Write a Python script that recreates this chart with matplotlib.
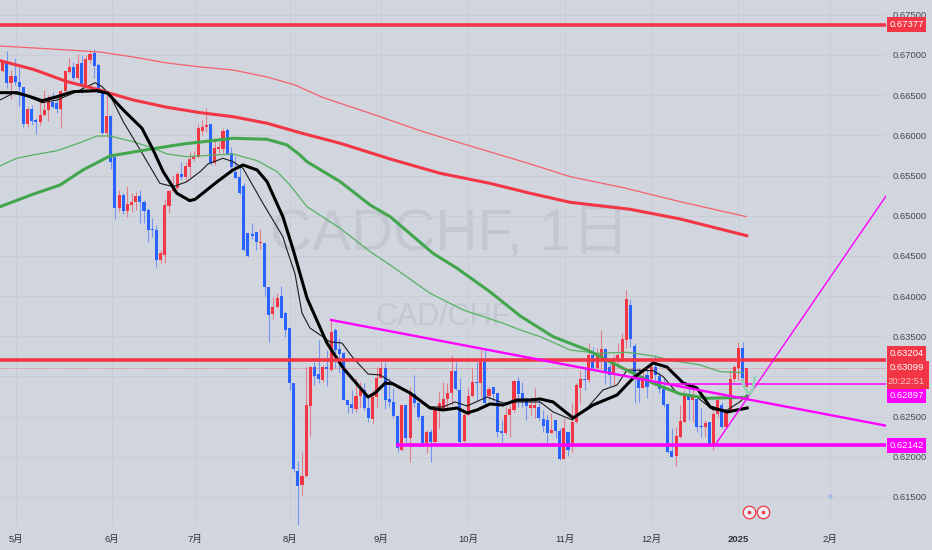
import matplotlib
matplotlib.use("Agg")
import matplotlib.pyplot as plt
from matplotlib.patches import Rectangle
import numpy as np

opens = [
 .66805,.66917,.66647,.66739,.66668,.66598,.66141,.66324,.66191,.66170,
 .66253,.66315,.66419,.66407,.66332,.66556,.66792,.66855,.66710,.66896,
 .66627,.66938,.67021,.66875,.66523,.66033,.66241,.65735,.65092,.65258,
 .65063,.65133,.65175,.65249,.65175,.65071,.64834,.64822,.64449,.64511,
 .65121,.65308,.65341,.65519,.65486,.65611,.65702,.65735,.66058,.66100,
 .66141,.65660,.65830,.65826,.66067,.65776,.65548,.65478,.65370,.64781,
 .64772,.64801,.64656,
 .64656,.64117,.63772,.63860,.64001,.63785,.63598,.62922,.61827,.61649,
 .61765,.62636,.63121,.63030,.62955,.63113,.63080,.63577,.63345,.63287,
 .62706,.62657,.62599,.62756,.62831,.62603,.62470,.62748,.62984,.63100,
 .62719,.62686,.62511,.62084,.62644,.62229,.62777,.62673,.62511,.62167,
 .62312,.62188,.62582,.62590,.62715,.62789,.63067,.62831,.62200,.62520,
 .62756,.62935,.62922,.63183,.62760,.62864,.62789,.62321,.62292,.62520,
 .62582,.62947,.62789,.62715,
 .62603,.62603,.62624,.62466,.62458,.62300,.62458,.62325,.61968,.62313,
 .62167,.62437,.62852,.62964,.62956,.63267,.63101,.63204,.63337,.63113,
 .63018,.63213,.63225,.63453,.63885,.63379,.62976,.62852,.63018,.62964,
 .63113,.63005,.62839,.62653,.62076,.62010,.62250,.62437,.62769,.62707,
 .62715,.62387,.62375,.62429,.62147,.62528,.62644,.62375,.62562,.62964,
 .63101,.63350,.62873]
highs = [
 .66938,.67054,.66813,.66958,.66855,.66606,.66357,.66378,.66212,.66419,
 .66564,.66502,.66544,.66461,.66564,.66805,.66958,.66917,.67012,.67000,
 .67000,.67062,.67070,.66896,.66564,.66502,.66253,.65735,.65320,.65278,
 .65370,.65278,.65299,.65320,.65196,.65092,.64967,.64884,.64573,.65204,
 .65320,.65507,.65548,.65673,.65673,.65797,.65809,.66141,.66191,.66336,
 .66141,.65963,.65921,.66087,.66087,.65851,.65743,.65610,.65403,.64789,
 .64913,.64801,.64830,
 .64663,.64117,.63992,.64034,.64125,.63818,.63598,.62922,.61951,.62063,
 .63121,.63129,.63183,.63453,.63142,.63329,.63702,.63598,.63474,.63308,
 .62706,.62831,.62976,.62935,.62914,.62727,.62831,.63121,.63183,.63183,
 .62976,.62852,.62520,.62652,.62657,.62872,.63017,.62686,.62520,.62333,
 .62341,.62623,.62810,.62935,.62914,.63266,.63183,.62976,.62540,.62852,
 .63100,.63183,.63329,.63329,.62872,.62872,.62789,.62457,.62623,.62644,
 .62955,.62997,.62935,.62748,
 .62748,.62852,.62727,.62582,.62520,.62541,.62458,.62354,.62466,.62313,
 .62665,.62914,.63080,.63101,.63412,.63370,.63350,.63578,.63350,.63163,
 .63267,.63412,.63536,.64076,.63959,.63412,.63101,.63101,.63101,.63213,
 .63267,.63059,.62976,.62665,.62354,.62375,.62644,.62831,.62893,.62893,
 .62727,.62603,.62458,.62437,.62562,.62769,.62686,.62562,.63080,.63142,
 .63433,.63433,.63105]
lows = [
 .66792,.66585,.66448,.66627,.66365,.66100,.66108,.66129,.66017,.66129,
 .66241,.66183,.66336,.66274,.66087,.66523,.66772,.66689,.66697,.66523,
 .66564,.66896,.66710,.66523,.66017,.65984,.65577,.64955,.65050,.65021,
 .64988,.65050,.65071,.64913,.64905,.64677,.64739,.64358,.64407,.64407,
 .65030,.65299,.65328,.65444,.65444,.65486,.65685,.65714,.66004,.66046,
 .65631,.65631,.65776,.65776,.65755,.65548,.65465,.65270,.64565,.64490,
 .64706,.64573,.64582,
 .64001,.63432,.63710,.63847,.63723,.63486,.62831,.61815,.61151,.61524,
 .61752,.62263,.62893,.62914,.62935,.62881,.63071,.63100,.63038,.62706,
 .62540,.62549,.62561,.62623,.62582,.62437,.62416,.62623,.62976,.62590,
 .62623,.62478,.62063,.62072,.62167,.61939,.62623,.62457,.62146,.62043,
 .61939,.62167,.62354,.62582,.62603,.62644,.62831,.62167,.62188,.62520,
 .62748,.62706,.62748,.62644,.62706,.62686,.62242,.62188,.62283,.62250,
 .62561,.62623,.62623,.62457,
 .62520,.62479,.62458,.62313,.62167,.62292,.62230,.61960,.61968,.62010,
 .62064,.62416,.62665,.62831,.62935,.63080,.63088,.63101,.62906,.62881,
 .62893,.63122,.63204,.63350,.63370,.62665,.62686,.62852,.62727,.62956,
 .62956,.62790,.62624,.62051,.62002,.61885,.62230,.62437,.62458,.62437,
 .62313,.62250,.62250,.62147,.62085,.62499,.62354,.62375,.62541,.62935,
 .62956,.62956,.62864]
closes = [
 .66917,.66647,.66739,.66668,.66598,.66141,.66324,.66183,.66170,.66253,
 .66315,.66448,.66349,.66324,.66556,.66805,.66855,.66710,.66888,.66627,
 .66946,.67012,.66863,.66523,.66033,.66241,.65673,.65092,.65258,.65063,
 .65146,.65175,.65249,.65175,.65063,.64822,.64826,.64449,.64532,.65133,
 .65308,.65341,.65519,.65478,.65619,.65702,.65735,.66087,.66100,.66129,
 .65660,.65838,.65859,.66058,.65768,.65602,.65473,.65278,.64573,.64499,
 .64747,.64677,.64677,
 .64108,.63764,.63860,.63972,.63723,.63577,.62914,.61844,.61640,.61761,
 .62644,.63121,.63005,.62964,.63113,.63088,.63557,.63329,.63279,.62706,
 .62644,.62603,.62760,.62831,.62603,.62487,.62748,.62984,.63109,.62706,
 .62686,.62511,.62105,.62644,.62229,.62789,.62673,.62499,.62167,.62312,
 .62188,.62582,.62665,.62715,.62789,.63067,.62839,.62188,.62520,.62760,
 .62935,.62922,.63183,.62665,.62839,.62781,.62312,.62300,.62520,.62590,
 .62947,.62781,.62706,.62632,
 .62644,.62644,.62479,.62383,.62300,.62333,.62325,.61968,.62354,.62085,
 .62437,.62893,.62964,.62960,.63267,.63101,.63267,.63337,.63047,.63018,
 .63225,.63267,.63462,.63959,.63462,.62976,.62852,.63005,.62873,.63122,
 .63018,.62839,.62644,.62064,.62002,.62259,.62450,.62769,.62707,.62769,
 .62375,.62375,.62416,.62167,.62528,.62707,.62375,.62541,.62964,.63113,
 .63350,.62976,.63099]

red_thick_x = [-.65,7.3,15.5,23.4,25.8,31.4,39.5,47.5,55.4,63.6,71.5,81.2,93.2,105.2,117.2,126.9,136.5,150.9,163,179]
red_thick_y = [.66929,.66822,.66668,.66564,.66523,.66440,.66349,.66282,.66232,.66150,.66033,.65901,.65706,.65528,.65403,.65279,.65167,.65080,.64959,.64751]
red_thin_x = [-.65,11.4,23.4,31.4,39.5,47.5,55.4,63.6,70.3,77.1,89.1,101.1,111.7,126.9,136.5,149.3,163,178.9]
red_thin_y = [.67112,.67075,.67037,.66975,.66900,.66851,.66813,.66726,.66627,.66469,.66262,.66046,.65880,.65644,.65486,.65349,.65174,.64988]
green_thick_x = [-.65,7.3,13.8,19.3,25.8,35.4,43.4,55.4,63.6,68.4,71.5,73.2,81.2,88.4,93.2,103.5,109.3,117.2,124.5,132.4,140.6,148.5,156.5,163,169.5,179.1]
green_thick_y = [.65112,.65267,.65382,.65569,.65743,.65827,.65892,.65963,.65951,.65880,.65756,.65672,.65423,.65133,.64988,.64532,.64346,.64054,.63752,.63495,.63329,.63121,.62915,.62782,.62728,.62740]
green_thin_x = [-.65,3.4,7.3,13.1,18.6,22.7,25.8,31.4,36.2,39.5,44.3,55.4,61.2,66,69.1,73.2,81.2,88.4,93.2,102.8,110.8,120.4,124.5,129.3,136.5,143,150.2,156.5,161.3,167.8,172.6,178.1]
green_thin_y = [.65619,.65715,.65756,.65809,.65909,.65992,.65992,.65921,.65839,.65768,.65734,.65768,.65685,.65548,.65382,.65112,.64843,.64552,.64387,.64035,.63827,.63661,.63578,.63495,.63329,.63288,.63300,.63254,.63196,.63142,.63059,.63047]
black_thick_x = [-.65,3.4,6.6,9.5,13.1,16.9,22.7,25.3,29,33.5,36.2,38.6,41.9,45,46.3,51.6,55.4,57.8,61.2,63.6,67.4,69.9,71.5,73.2,78,81.9,87.9,89.6,92,93.9,98,102.8,105.9,109.3,111.7,114.1,117.2,120.4,123.7,126.9,129.3,132.4,137.2,142,147.8,151.7,156.5,159.8,163.7,167,170.2,174.3,179.1]
black_thick_y = [.66531,.66531,.66481,.66431,.66481,.66543,.66556,.66523,.66316,.66088,.65818,.65548,.65279,.65187,.65204,.65423,.65569,.65631,.65569,.65423,.64988,.64573,.64283,.63976,.63416,.63105,.62744,.62794,.62918,.62906,.62794,.62607,.62582,.62607,.62545,.62582,.62657,.62644,.62707,.62707,.62719,.62682,.62483,.62644,.62769,.62980,.63167,.63117,.62918,.62856,.62620,.62558,.62607]
black_thin_x = [-.65,2.5,5.8,9.5,13.1,16.9,20.3,22.2,23.9,25.8,29,33.8,37.8,41,44.3,47.5,49.4,53,55.4,57.8,62.6,67.4,68.4,70.3,72,73.9,78.8,81.6,84.3,87.9,90.8,93.9,98,102.8,105.9,108.8,111.7,116.5,120.4,123.7,126.9,129.3,132.4,137,140.6,144.4,147.8,150.2,156.5,158.9,162.2,167,170.9,174.3,177.4,179.1]
black_thin_y = [.66440,.66523,.66490,.66406,.66440,.66523,.66606,.66655,.66606,.66502,.66170,.65756,.65403,.65361,.65423,.65548,.65644,.65715,.65672,.65590,.65155,.64739,.64573,.64283,.63789,.63603,.63429,.63416,.63229,.63030,.63018,.62918,.62794,.62620,.62620,.62682,.62632,.62744,.62669,.62682,.62682,.62682,.62558,.62458,.62607,.62831,.62893,.63080,.63071,.62997,.62794,.62744,.62582,.62582,.62686,.62769]
brush_x = [177.8,178.6,179.3,179.8,180.5,181]
brush_y = [.62956,.62856,.62794,.62782,.62856,.62993]

levels_red = [.67377, .63204]
last_price = .63099
level_support = .62142
level_thin = .62906
trend_x, trend_y = [79, 212.5], [.63702, .62387]
rise_x, rise_y = [171.4, 212.5], [.62147, .65245]

yticks = [.615,.62,.625,.63,.635,.64,.645,.65,.655,.66,.665,.67,.675]
covered_tick = .63
month_pos = [3.1,26.2,46.2,69.0,91.1,112.0,135.3,156.1,176.9,199.0]
month_lab = ['5月','6月','7月','8月','9月','10月','11月','12月','2025','2月']
event_x = [179.6, 183.0]
event_y = [.61313, .61313]
dot_x, dot_y = [199.0], [.6151]

RED, BLUE, MAG = '#f23645', '#2962ff', '#ff00ff'
BG, GRID = '#d1d5de', '#cacdd7'
plt.rcParams['font.family'] = ['Liberation Sans', 'Noto Sans CJK SC']
FS = 6.8

W, H = 932, 550
fig = plt.figure(figsize=(W/100, H/100), dpi=100, facecolor=BG)
ax = fig.add_axes([0, 25/H, 886/W, 525/H], facecolor=BG)
ax.set_xlim(-.65, 212.5)
ax.set_ylim(.61151, .67684)
for s in ax.spines.values():
    s.set_visible(False)
ax.yaxis.tick_right()
ax.set_yticks(yticks)
ax.set_yticklabels(['' if v == covered_tick else f'{v:.5f}' for v in yticks], fontsize=FS, color='#454954')
ax.set_xticks(month_pos)
ax.set_xticklabels(month_lab, fontsize=FS, color='#30333c')
ax.get_xticklabels()[8].set_fontweight('bold')
ax.tick_params(length=0)
ax.tick_params(axis='y', pad=5)
ax.tick_params(axis='x', pad=7)
ax.grid(True, color=GRID, lw=.7)
ax.set_axisbelow(True)

ax.text((270-2.7)/4.156, .67-(250-55)/8036, 'CADCHF, 1日', fontsize=42, color='#c3c7d0',
        va='baseline', ha='left', zorder=.5)
ax.text((375-2.7)/4.156, .67-(325-55)/8036, 'CAD/CHF', fontsize=22, color='#c3c7d0',
        va='baseline', ha='left', zorder=.5)

idx = np.arange(len(opens))
o, h, l, c = map(np.array, (opens, highs, lows, closes))
up = c >= o
cols = np.where(up, RED, BLUE)
ax.vlines(idx, l, h, colors=cols, lw=.8, alpha=.55, zorder=2)
ax.bar(idx, np.abs(c-o), bottom=np.minimum(o, c), width=.74, color=cols, lw=0, zorder=3)

ax.plot(red_thin_x, red_thin_y, color='#f4606c', lw=.9, zorder=4)
ax.plot(green_thin_x, green_thin_y, color='#58b163', lw=.9, zorder=4)
ax.plot(black_thin_x, black_thin_y, color='#1a1a1a', lw=.8, zorder=4)
ax.plot(red_thick_x, red_thick_y, color=RED, lw=2.2, zorder=5)
ax.plot(green_thick_x, green_thick_y, color='#43a64c', lw=2.2, zorder=5)
ax.plot(black_thick_x, black_thick_y, color='#000000', lw=2.2, zorder=6)

for v in levels_red:
    ax.axhline(v, color=RED, lw=2.6, zorder=7)
ax.axhline(last_price, color=RED, lw=.6, ls=(0, (1, 1)), alpha=.6, zorder=7)
ax.plot([95.1, 212.5], [level_support]*2, color=MAG, lw=2.6, zorder=7)
ax.plot([159.4, 212.5], [level_thin]*2, color=MAG, lw=1.1, zorder=7)
ax.plot(trend_x, trend_y, color=MAG, lw=1.7, zorder=7)
ax.plot(rise_x, rise_y, color=MAG, lw=1.0, zorder=7)
ax.plot(brush_x, brush_y, color='#9ad0b8', lw=2.2, zorder=8, solid_capstyle='round')
ax.plot(dot_x, dot_y, 'o', ms=2.2, color='#a5b8e4', zorder=3)
ax.plot(event_x, event_y, 'o', ms=9, mfc='#eceef2', mec=RED, mew=.9, zorder=8)
ax.plot(event_x, event_y, 'o', ms=2.6, color=RED, mew=0, zorder=9)

def box(x0, y0, x1, y1, col):
    fig.add_artist(Rectangle((x0/W, 1-y1/H), (x1-x0)/W, (y1-y0)/H, transform=fig.transFigure,
                             facecolor=col, edgecolor='none', zorder=3))
def lab(xc, yc, s, col='white'):
    fig.text(xc/W, 1-yc/H, s, color=col, fontsize=FS, ha='center', va='center', zorder=4)

box(887, 17, 926, 32, RED);    lab(906.5, 24.5, '0.67377')
box(887, 346, 926, 361, RED);  lab(906.5, 353.5, '0.63204')
box(887, 361, 929, 389, RED);  lab(906.5, 368, '0.63099'); lab(906.5, 382, '20:22:51', col='#f7c3c8')
box(887, 389, 926, 403, MAG);  lab(906.5, 396, '0.62897')
box(887, 438, 926, 452.5, MAG); lab(906.5, 445.3, '0.62142')

assert len(opens) == len(highs) == len(lows) == len(closes) == 180
fig.savefig('out.png', dpi=100, facecolor=BG)
